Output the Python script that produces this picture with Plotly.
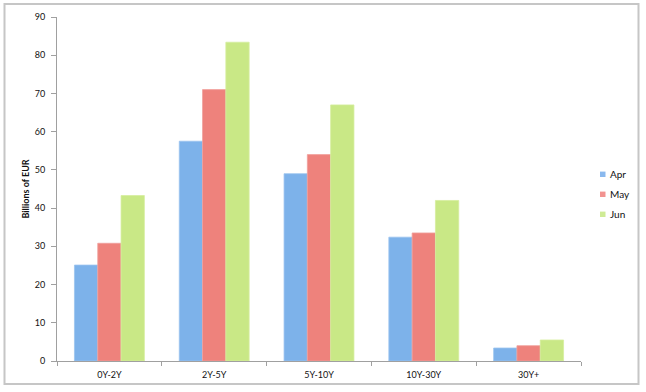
import plotly.graph_objects as go

categories = ["0Y-2Y", "2Y-5Y", "5Y-10Y", "10Y-30Y", "30Y+"]
apr = [25.1, 57.5, 49.0, 32.4, 3.4]
may = [30.8, 71.0, 54.0, 33.5, 4.0]
jun = [43.3, 83.4, 67.0, 42.0, 5.5]
series_names = ["Apr", "May", "Jun"]
y_ticks = list(range(0, 91, 10))

colors = ["#7db2ea", "#ee827c", "#c9e886"]
lines = ["#9cc4ef", "#f0a09c", "#d6ee9e"]
legend_colors = ["#8ab9ee", "#f29390", "#cfeb95"]

# plot-area geometry (pixels)
W, H = 646, 392
L, R, T, B = 57, 65, 17, 31
pw, ph = W - L - R, H - T - B

def px_x(x):
    return (x - L) / pw

def px_y(y):
    return (H - B - y) / ph

fig = go.Figure()
for name, vals, c, lc in zip(series_names, [apr, may, jun], colors, lines):
    fig.add_trace(go.Bar(
        x=categories, y=vals, name=name, showlegend=False,
        marker=dict(color=c, line=dict(color=lc, width=0.8)),
    ))

font_family = "Lato, 'Liberation Sans', sans-serif"

shapes = [dict(type="rect", xref="paper", yref="paper",
               x0=px_x(4.5), x1=px_x(638.5), y0=px_y(384), y1=px_y(4),
               line=dict(color="#c6c6c6", width=2), layer="below")]
annotations = []
legend_y = [174.3, 194.3, 214.3]
for name, c, ly in zip(series_names, legend_colors, legend_y):
    shapes.append(dict(type="rect", xref="paper", yref="paper",
                       x0=px_x(600), x1=px_x(605.5),
                       y0=px_y(ly + 2.7), y1=px_y(ly - 2.7),
                       fillcolor=c, line=dict(width=0)))
    annotations.append(dict(xref="paper", yref="paper", x=px_x(608), y=px_y(ly),
                            xanchor="left", yanchor="middle", text=name,
                            showarrow=False, font=dict(size=10, color="#111")))

fig.update_layout(
    width=W, height=H,
    margin=dict(l=L, r=R, t=T, b=B),
    paper_bgcolor="white", plot_bgcolor="white",
    barmode="group", bargap=0.333, bargroupgap=0,
    font=dict(family=font_family, size=9, color="#222"),
    showlegend=False,
    xaxis=dict(
        type="category", showline=True, linecolor="#a0a0a0", linewidth=1,
        ticks="outside", tickson="boundaries", ticklen=4, tickcolor="#a0a0a0",
        tickfont=dict(size=9, color="#111"), showgrid=False, zeroline=False,
        ticklabelstandoff=5,
    ),
    yaxis=dict(
        range=[0, 90], tickvals=y_ticks, showline=True, linecolor="#a0a0a0",
        linewidth=1, ticks="outside", ticklen=5, tickcolor="#a0a0a0",
        tickfont=dict(size=9, color="#111"), showgrid=False, zeroline=False,
        ticklabelstandoff=4,
        title=dict(text="<b>Billions of EUR</b>", font=dict(size=9, color="#111"), standoff=3),
    ),
    shapes=shapes,
    annotations=annotations,
)

fig.write_html("out.html", config={"displayModeBar": False},
               post_script="document.body.style.margin='0';document.body.style.overflow='hidden';")
